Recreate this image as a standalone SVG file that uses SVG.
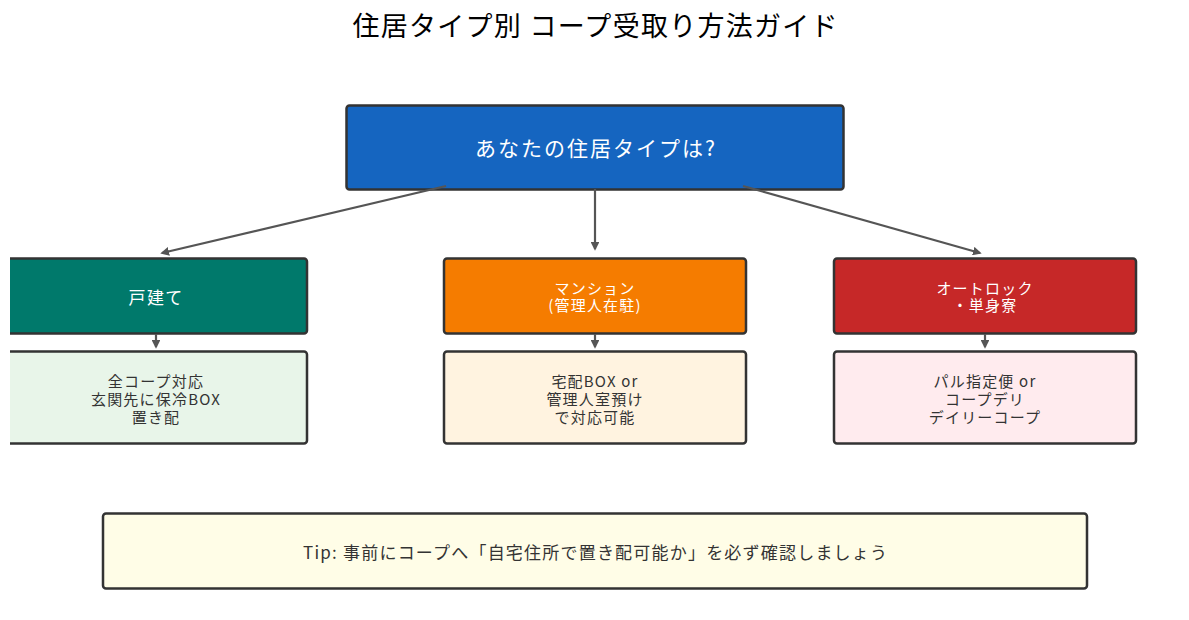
<svg xmlns="http://www.w3.org/2000/svg" width="1189" height="620" viewBox="0 0 1189 620">
  <defs>
    <style>
      text { font-family: "Noto Sans CJK JP", "DejaVu Sans", sans-serif; text-anchor: middle; dominant-baseline: central; }
      .box { stroke: #333333; stroke-width: 2.5; }
      .title { font-size: 27px; fill: #000000; }
      .head { fill: #ffffff; font-size: 15px; letter-spacing: 1.2px; }
      .body { fill: #333333; font-size: 15px; letter-spacing: 1.2px; }
      .link { stroke: #555555; stroke-width: 2.2; fill: none; marker-end: url(#arrow); }
    </style>
    <marker id="arrow" viewBox="0 0 10 10" refX="8" refY="5" markerWidth="4" markerHeight="4" orient="auto" markerUnits="strokeWidth">
      <path d="M0,0 L10,5 L0,10 z" fill="#555555"/>
    </marker>
    <clipPath id="frame">
      <rect x="10" y="0" width="1179" height="620"/>
    </clipPath>
  </defs>

  <rect width="1189" height="620" fill="#ffffff"/>

  <text class="title" x="595" y="24" textLength="485" lengthAdjust="spacing">住居タイプ別 コープ受取り方法ガイド</text>

  <g clip-path="url(#frame)">
    <g id="question">
      <rect class="box" x="346.5" y="105.5" width="497" height="84" rx="3" fill="#1565C0"/>
      <text x="595" y="147" fill="#ffffff" style="font-size:21px" textLength="240" lengthAdjust="spacing">あなたの住居タイプは?</text>
    </g>

    <g id="house">
      <rect class="box" x="5" y="258.5" width="302" height="75" rx="3" fill="#00796B"/>
      <text class="head" x="156" y="296" style="font-size:17px" textLength="55" lengthAdjust="spacing">戸建て</text>
    </g>
    <g id="mansion">
      <rect class="box" x="444" y="258.5" width="302" height="75" rx="3" fill="#F57C00"/>
      <text class="head" x="595" y="287">マンション</text>
      <text class="head" x="595" y="304">(管理人在駐)</text>
    </g>
    <g id="autolock">
      <rect class="box" x="834" y="258.5" width="302" height="75" rx="3" fill="#C62828"/>
      <text class="head" x="985" y="287">オートロック</text>
      <text class="head" x="985" y="304">・単身寮</text>
    </g>

    <g id="house-method">
      <rect class="box" x="5" y="351.5" width="302" height="92" rx="3" fill="#E8F5E9"/>
      <text class="body" x="156" y="380">全コープ対応</text>
      <text class="body" x="156" y="398">玄関先に保冷BOX</text>
      <text class="body" x="156" y="416">置き配</text>
    </g>
    <g id="mansion-method">
      <rect class="box" x="444" y="351.5" width="302" height="92" rx="3" fill="#FFF3E0"/>
      <text class="body" x="595" y="380">宅配BOX or</text>
      <text class="body" x="595" y="398">管理人室預け</text>
      <text class="body" x="595" y="416">で対応可能</text>
    </g>
    <g id="autolock-method">
      <rect class="box" x="834" y="351.5" width="302" height="92" rx="3" fill="#FFEBEE"/>
      <text class="body" x="985" y="380">パル指定便 or</text>
      <text class="body" x="985" y="398">コープデリ</text>
      <text class="body" x="985" y="416">デイリーコープ</text>
    </g>

    <g id="tip">
      <rect class="box" x="103" y="513.5" width="984" height="75" rx="3" fill="#FFFDE7"/>
      <text class="body" x="595" y="551" style="font-size:17px; letter-spacing:0" textLength="584" lengthAdjust="spacing">Tip: 事前にコープへ「自宅住所で置き配可能か」を必ず確認しましょう</text>
    </g>

    <g id="connectors">
      <line class="link" x1="446" y1="186" x2="162" y2="253"/>
      <line class="link" x1="595" y1="189" x2="595" y2="249"/>
      <line class="link" x1="743" y1="186" x2="980" y2="253"/>
      <line class="link" x1="156" y1="334" x2="156" y2="347"/>
      <line class="link" x1="595" y1="334" x2="595" y2="347"/>
      <line class="link" x1="985" y1="334" x2="985" y2="347"/>
    </g>
  </g>
</svg>
